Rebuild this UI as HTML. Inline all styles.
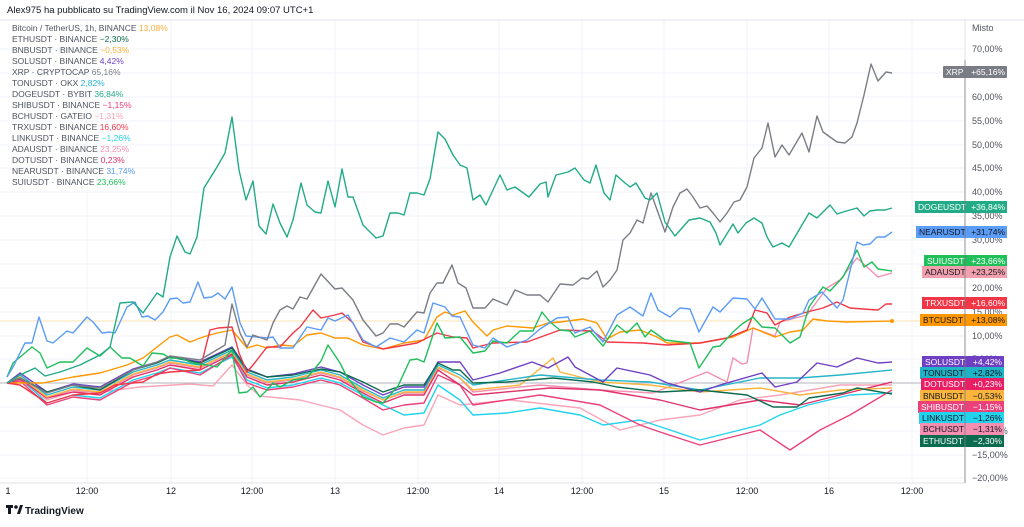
<!DOCTYPE html>
<html><head><meta charset="utf-8"><style>
body{margin:0;background:#fff;width:1024px;height:522px;overflow:hidden;font-family:"Liberation Sans",sans-serif}
</style></head><body>
<svg width="1024" height="522" xmlns="http://www.w3.org/2000/svg" font-family="Liberation Sans, sans-serif">
<rect width="1024" height="522" fill="#fff"/>
<g stroke="#f0f3fa" stroke-width="1">
<line x1="0" y1="49" x2="965" y2="49"/><line x1="0" y1="73" x2="965" y2="73"/><line x1="0" y1="97" x2="965" y2="97"/><line x1="0" y1="121" x2="965" y2="121"/><line x1="0" y1="145" x2="965" y2="145"/><line x1="0" y1="168" x2="965" y2="168"/><line x1="0" y1="192" x2="965" y2="192"/><line x1="0" y1="216" x2="965" y2="216"/><line x1="0" y1="240" x2="965" y2="240"/><line x1="0" y1="264" x2="965" y2="264"/><line x1="0" y1="288" x2="965" y2="288"/><line x1="0" y1="312" x2="965" y2="312"/><line x1="0" y1="336" x2="965" y2="336"/><line x1="0" y1="359" x2="965" y2="359"/><line x1="0" y1="407" x2="965" y2="407"/><line x1="0" y1="431" x2="965" y2="431"/><line x1="0" y1="455" x2="965" y2="455"/><line x1="0" y1="478" x2="965" y2="478"/>
<line x1="87" y1="20" x2="87" y2="483"/><line x1="171" y1="20" x2="171" y2="483"/><line x1="252" y1="20" x2="252" y2="483"/><line x1="335" y1="20" x2="335" y2="483"/><line x1="418" y1="20" x2="418" y2="483"/><line x1="499" y1="20" x2="499" y2="483"/><line x1="582" y1="20" x2="582" y2="483"/><line x1="664" y1="20" x2="664" y2="483"/><line x1="747" y1="20" x2="747" y2="483"/><line x1="829" y1="20" x2="829" y2="483"/><line x1="912" y1="20" x2="912" y2="483"/>
</g>
<line x1="0" y1="383" x2="965" y2="383" stroke="#b2b5be" stroke-width="1"/>
<line x1="0" y1="321" x2="965" y2="321" stroke="#ffe0b2" stroke-width="1"/>
<line x1="965" y1="20" x2="965" y2="483" stroke="#e0e3eb"/>
<line x1="0" y1="483" x2="965" y2="483" stroke="#e0e3eb"/>
<line x1="0" y1="20" x2="1024" y2="20" stroke="#e0e3eb"/>
<g fill="none" stroke-width="1.4" stroke-linejoin="round">
<polyline stroke="#f8a5b8" points="7,383 20,380 47,400 73,392 100,392 140,387 190,384 213,386 232,365 247,385 260,396 300,400 340,410 363,425 383,435 404,428 424,425 438,395 460,405 510,400 580,408 620,430 660,420 700,415 740,400 780,395 840,385 892,385"/>
<polyline stroke="#22d3ee" points="7,383 20,378 47,403 73,395 100,398 133,380 157,373 170,368 200,373 232,357 247,380 267,388 293,385 321,378 340,383 363,395 383,405 404,415 424,413 438,385 460,400 473,415 507,413 540,408 580,415 603,425 640,420 700,440 760,425 780,415 808,405 850,395 892,393"/>
<polyline stroke="#ec407a" points="7,383 20,381 47,405 73,397 100,400 133,382 157,375 170,368 200,375 232,355 247,383 267,390 293,387 321,380 340,385 363,398 383,410 404,405 424,403 438,375 460,385 473,405 540,395 600,405 640,425 660,432 700,445 720,440 760,430 790,450 820,430 850,415 892,390"/>
<polyline stroke="#f48fb1" points="7,383 20,378 47,398 73,390 100,393 133,375 157,368 170,363 200,368 232,352 247,375 267,383 293,380 321,373 340,378 363,391 383,400 404,393 424,393 438,368 460,378 473,392 540,385 600,390 653,393 707,372 727,382 733,358 742,364 747,363 753,328 775,336 780,322 807,315 827,288 840,280 857,258 878,277 892,273"/>
<polyline stroke="#e0316b" points="7,383 20,379 47,398 73,392 100,395 133,377 157,370 170,365 200,370 232,354 247,377 267,385 293,382 321,375 340,380 363,393 383,403 404,395 424,395 438,370 460,385 473,395 550,388 600,390 660,400 700,410 760,400 800,405 840,395 892,382"/>
<polyline stroke="#fbb53c" points="7,383 20,377 47,397 73,389 100,392 133,374 157,367 170,362 200,367 232,352 247,374 267,382 293,379 321,372 340,377 363,390 383,400 404,392 424,392 438,367 460,378 473,390 520,385 553,358 560,372 600,382 650,385 700,392 760,388 800,395 840,390 892,388"/>
<polyline stroke="#26b5c9" points="7,383 20,375 47,395 73,387 100,390 133,372 157,365 170,360 200,365 232,350 247,372 267,380 293,377 321,370 340,375 363,388 383,398 404,390 424,390 438,365 460,375 473,385 540,375 600,380 650,382 700,390 760,378 800,378 840,375 892,370"/>
<polyline stroke="#6e3fc3" points="7,383 20,373 47,392 73,384 100,387 133,369 157,362 170,357 200,362 232,347 247,369 267,377 293,374 321,367 340,372 363,385 383,395 404,387 424,387 438,362 460,362 473,380 500,373 532,362 548,368 568,357 575,367 603,382 617,368 650,375 667,383 700,392 720,385 762,373 775,387 797,382 817,363 837,367 857,358 878,363 892,362"/>
<polyline stroke="#0b6b4f" points="7,383 20,378 47,392 73,385 100,390 133,370 157,363 170,357 200,363 232,348 247,370 267,377 293,375 321,369 340,372 363,382 383,392 404,385 424,385 438,363 453,370 460,370 473,383 507,382 553,378 593,382 617,387 660,392 700,390 747,395 773,407 797,407 809,398 843,393 857,388 892,394"/>
<polyline stroke="#ff9800" points="7,383 43,383 73,377 100,373 127,365 143,358 157,347 170,337 177,335 190,342 203,337 217,333 232,330 247,348 257,345 267,348 280,345 293,346 307,335 321,333 335,338 348,338 363,345 383,349 404,343 424,340 437,317 445,312 453,315 465,311 473,322 487,336 493,330 507,326 533,328 548,323 560,322 583,319 597,323 607,339 620,332 640,330 657,337 667,343 700,343 733,337 753,328 775,337 790,332 803,330 813,319 827,321 847,322 892,321"/>
<circle cx="892" cy="321" r="2" fill="#ff9800" stroke="none"/>
<polyline stroke="#f23645" points="7,383 20,385 47,403 73,395 100,393 115,385 143,382 157,374 170,372 200,370 210,330 218,328 232,327 239,353 247,372 253,365 267,347 280,347 293,333 300,327 313,310 321,318 335,315 342,313 353,323 363,342 383,349 417,343 437,333 453,337 467,338 473,348 493,343 527,342 560,330 593,331 607,342 643,343 667,345 700,343 727,338 747,330 755,310 767,313 775,325 790,317 807,312 823,308 837,302 850,308 863,309 878,310 886,304 892,304"/>
<polyline stroke="#1fbf5a" points="7,377 13,363 32,347 40,353 47,368 60,362 73,362 87,348 100,356 110,347 122,358 130,358 143,366 152,353 163,354 170,358 180,358 193,363 207,365 217,367 232,350 239,393 247,392 253,387 260,397 267,390 273,383 280,387 293,380 307,378 321,361 328,345 340,363 347,377 363,397 376,402 383,403 398,386 410,360 417,359 424,362 437,323 445,338 460,337 473,353 485,351 493,341 507,343 520,331 533,331 542,312 550,322 560,330 570,331 575,337 590,331 603,346 617,325 627,333 637,323 645,337 651,330 665,340 690,343 699,368 713,347 720,346 733,332 742,324 753,317 762,327 775,328 790,343 800,337 809,307 823,287 830,291 843,277 857,250 864,267 872,262 878,269 892,271"/>
<polyline stroke="#5b9cf6" points="7,377 13,367 25,343 32,343 39,317 47,341 53,343 67,331 73,333 87,317 93,322 102,333 110,332 115,333 127,307 135,302 142,317 148,316 155,320 163,312 170,299 177,298 183,303 190,302 198,282 204,298 212,297 218,293 225,299 232,287 240,323 246,336 257,337 267,338 273,337 280,348 293,348 307,327 321,330 328,318 335,321 348,315 363,340 376,347 390,338 404,342 417,330 424,333 433,303 445,307 452,316 460,317 473,345 485,348 493,338 507,347 527,340 540,329 557,318 568,317 575,333 590,327 603,342 617,315 630,307 643,316 651,293 658,310 670,317 680,308 690,309 699,332 713,307 720,312 733,298 747,299 755,309 762,298 775,319 790,319 803,313 809,300 822,292 837,308 843,300 857,242 863,245 870,244 877,237 885,237 892,232"/>
<polyline stroke="#7b7d85" points="7,383 20,378 47,393 73,385 100,388 133,370 157,362 170,356 200,360 225,345 232,304 240,333 247,347 253,335 267,340 273,323 280,310 287,306 293,309 300,297 307,299 321,274 335,289 342,288 353,300 363,320 376,336 383,333 390,324 398,324 404,327 417,312 424,313 430,293 437,283 443,283 452,265 458,283 466,288 473,308 485,308 493,299 507,305 515,290 527,295 540,295 548,302 560,284 573,285 582,278 588,279 597,271 603,287 610,280 617,270 623,240 630,233 637,220 643,223 651,193 665,232 673,207 680,193 687,189 693,197 700,208 707,206 713,213 720,222 727,213 734,202 740,200 747,187 754,158 762,148 768,123 775,157 782,145 789,155 802,133 809,152 817,116 823,132 837,142 845,143 852,137 857,123 864,95 871,64 878,81 886,72 892,73"/>
<polyline stroke="#22ab87" points="7,383 20,375 35,368 45,376 60,372 80,365 100,355 110,347 120,303 133,302 143,313 157,293 163,297 170,257 177,236 185,252 190,254 197,237 204,188 217,167 225,153 232,117 239,170 246,200 253,181 259,226 266,234 273,204 280,223 287,237 293,220 301,183 307,205 315,212 321,213 328,181 335,207 342,169 348,197 353,197 363,225 376,238 383,236 390,213 398,213 404,215 410,193 417,193 424,195 430,179 438,132 445,139 453,155 460,165 467,168 473,200 480,195 486,205 500,175 507,190 515,187 529,197 540,184 546,182 548,197 556,175 568,172 575,168 584,180 590,183 596,165 604,193 610,200 616,175 625,183 630,187 636,183 645,198 650,200 657,193 665,222 675,236 689,220 700,218 710,222 716,233 720,245 733,224 738,233 746,223 754,218 762,223 767,237 773,247 782,243 789,247 809,213 817,218 830,205 837,214 843,212 857,208 864,216 870,211 877,210 885,210 892,208"/>
</g>
<text x="7" y="13" font-size="9.5" fill="#131722">Alex975 ha pubblicato su TradingView.com il Nov 16, 2024 09:07 UTC+1</text>
<g font-size="8.5" fill="#50535e">
<text x="12" y="31">Bitcoin / TetherUS, 1h, BINANCE <tspan fill="#fbb03b">13,08%</tspan></text>
<text x="12" y="42">ETHUSDT · BINANCE <tspan fill="#0b6b4f">−2,30%</tspan></text>
<text x="12" y="53">BNBUSDT · BINANCE <tspan fill="#fbb53c">−0,53%</tspan></text>
<text x="12" y="64">SOLUSDT · BINANCE <tspan fill="#6e3fc3">4,42%</tspan></text>
<text x="12" y="75">XRP · CRYPTOCAP <tspan fill="#7b7d85">65,16%</tspan></text>
<text x="12" y="86">TONUSDT · OKX <tspan fill="#26b5c9">2,82%</tspan></text>
<text x="12" y="97">DOGEUSDT · BYBIT <tspan fill="#22ab87">36,84%</tspan></text>
<text x="12" y="108">SHIBUSDT · BINANCE <tspan fill="#ec407a">−1,15%</tspan></text>
<text x="12" y="119">BCHUSDT · GATEIO <tspan fill="#f8a5b8">−1,31%</tspan></text>
<text x="12" y="130">TRXUSDT · BINANCE <tspan fill="#f23645">16,60%</tspan></text>
<text x="12" y="141">LINKUSDT · BINANCE <tspan fill="#22d3ee">−1,26%</tspan></text>
<text x="12" y="152">ADAUSDT · BINANCE <tspan fill="#f48fb1">23,25%</tspan></text>
<text x="12" y="163">DOTUSDT · BINANCE <tspan fill="#e0316b">0,23%</tspan></text>
<text x="12" y="174">NEARUSDT · BINANCE <tspan fill="#5b9cf6">31,74%</tspan></text>
<text x="12" y="185">SUIUSDT · BINANCE <tspan fill="#1fbf5a">23,66%</tspan></text>
</g>
<g font-size="9" fill="#50535e">
<text x="972" y="31">Misto</text>
<text x="972" y="52">70,00%</text><text x="972" y="76">65,00%</text><text x="972" y="100">60,00%</text><text x="972" y="124">55,00%</text><text x="972" y="148">50,00%</text><text x="972" y="171">45,00%</text><text x="972" y="195">40,00%</text><text x="972" y="219">35,00%</text><text x="972" y="243">30,00%</text><text x="972" y="267">25,00%</text><text x="972" y="291">20,00%</text><text x="972" y="315">15,00%</text><text x="972" y="339">10,00%</text><text x="972" y="362">5,00%</text><text x="972" y="410">−5,00%</text><text x="972" y="434">−10,00%</text><text x="972" y="458">−15,00%</text><text x="972" y="481">−20,00%</text>
</g>
<g font-size="9" fill="#131722" text-anchor="middle">
<text x="8" y="494">1</text><text x="87" y="494">12:00</text><text x="171" y="494">12</text><text x="252" y="494">12:00</text><text x="335" y="494">13</text><text x="418" y="494">12:00</text><text x="499" y="494">14</text><text x="582" y="494">12:00</text><text x="664" y="494">15</text><text x="747" y="494">12:00</text><text x="829" y="494">16</text><text x="912" y="494">12:00</text>
</g>
<g font-size="8.5" fill="#fff">
<rect x="943" y="66" width="64" height="12" rx="1" fill="#7b7d85"/><text x="946" y="75">XRP</text><text x="1005" y="75" text-anchor="end">+65,16%</text>
<rect x="915" y="201" width="92" height="12" fill="#22ab87"/><text x="918" y="210">DOGEUSDT</text><text x="1005" y="210" text-anchor="end">+36,84%</text>
<rect x="916" y="226" width="91" height="12" fill="#5b9cf6"/><text x="919" y="235" fill="#131722">NEARUSDT</text><text x="1005" y="235" text-anchor="end" fill="#131722">+31,74%</text>
<rect x="924" y="255" width="83" height="12" fill="#1fbf5a"/><text x="927" y="264">SUIUSDT</text><text x="1005" y="264" text-anchor="end">+23,66%</text>
<rect x="922" y="266" width="85" height="12" fill="#f2a0ad"/><text x="925" y="275" fill="#131722">ADAUSDT</text><text x="1005" y="275" text-anchor="end" fill="#131722">+23,25%</text>
<rect x="922" y="297" width="85" height="12" fill="#f23645"/><text x="925" y="306">TRXUSDT</text><text x="1005" y="306" text-anchor="end">+16,60%</text>
<rect x="920" y="314" width="87" height="12" fill="#ff9800"/><text x="923" y="323" fill="#131722">BTCUSDT</text><text x="1005" y="323" text-anchor="end" fill="#131722">+13,08%</text>
<rect x="922" y="356" width="82" height="12" fill="#6e3fc3"/><text x="925" y="365">SOLUSDT</text><text x="1002" y="365" text-anchor="end">+4,42%</text>
<rect x="920" y="367" width="84" height="12" fill="#1fb3c6"/><text x="923" y="376" fill="#131722">TONUSDT</text><text x="1002" y="376" text-anchor="end" fill="#131722">+2,82%</text>
<rect x="921" y="378" width="83" height="12" fill="#e91e63"/><text x="924" y="387">DOTUSDT</text><text x="1002" y="387" text-anchor="end">+0,23%</text>
<rect x="920" y="390" width="84" height="12" fill="#fbb53c"/><text x="923" y="399" fill="#131722">BNBUSDT</text><text x="1002" y="399" text-anchor="end" fill="#131722">−0,53%</text>
<rect x="918" y="401" width="86" height="12" fill="#ec407a"/><text x="921" y="410">SHIBUSDT</text><text x="1002" y="410" text-anchor="end">−1,15%</text>
<rect x="919" y="412" width="85" height="12" fill="#22d3ee"/><text x="922" y="421" fill="#131722">LINKUSDT</text><text x="1002" y="421" text-anchor="end" fill="#131722">−1,26%</text>
<rect x="920" y="423" width="84" height="12" fill="#f48fb1"/><text x="923" y="432" fill="#131722">BCHUSDT</text><text x="1002" y="432" text-anchor="end" fill="#131722">−1,31%</text>
<rect x="920" y="435" width="84" height="12" fill="#0b6b4f"/><text x="923" y="444">ETHUSDT</text><text x="1002" y="444" text-anchor="end">−2,30%</text>
</g>
<line x1="965" y1="60" x2="965" y2="483" stroke="#787b86" stroke-width="0.8"/>
<g transform="translate(6,505)">
<rect x="0" y="0" width="7" height="3" fill="#131722"/><rect x="2" y="0" width="3" height="9" fill="#131722"/><circle cx="10" cy="2" r="1.8" fill="#131722"/><polygon points="11,9 14,0 17,0 14,9" fill="#131722"/>
<text x="19" y="9" font-size="10" font-weight="bold" fill="#131722">TradingView</text>
</g>
</svg>
</body></html>
